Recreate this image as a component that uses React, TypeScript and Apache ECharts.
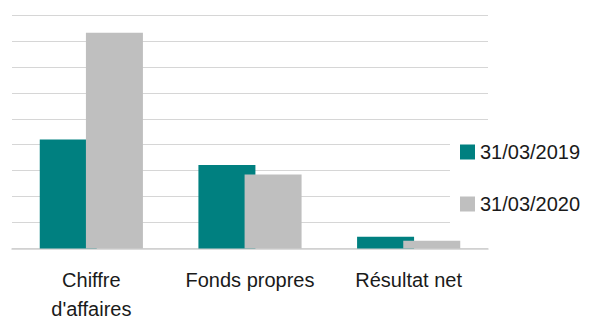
import React, { useEffect, useRef } from "react";
import * as echarts from "echarts";

const categories = ["Chiffre\nd'affaires", "Fonds propres", "Résultat net"];
const seriesNames = ["31/03/2019", "31/03/2020"];
const values2019 = [4.2, 3.22, 0.45];
const values2020 = [8.32, 2.85, 0.3];
const seriesColors = ["#008080", "#bfbfbf"];

export default function App() {
  const ref = useRef<HTMLDivElement>(null);
  useEffect(() => {
    if (!ref.current) return;
    const chart = echarts.init(ref.current, undefined, { renderer: "svg" });
    const font = "'Liberation Sans', Arial, sans-serif";
    chart.setOption({
      animation: false,
      backgroundColor: "#ffffff",
      grid: { left: 12, width: 476, top: 15, height: 240, containLabel: false },
      legend: {
        orient: "vertical",
        left: 450,
        top: 126,
        padding: [16, 10, 16, 10],
        backgroundColor: "#ffffff",
        itemWidth: 15,
        itemHeight: 15,
        itemGap: 32,
        icon: "rect",
        textStyle: { fontFamily: font, fontSize: 20, color: "#1a1a1a" },
        data: seriesNames,
      },
      xAxis: {
        type: "category",
        data: categories,
        axisTick: { show: false },
        axisLine: { lineStyle: { color: "#cfcfcf", width: 1.5 } },
        axisLabel: {
          fontFamily: font,
          fontSize: 20,
          lineHeight: 29.5,
          color: "#1a1a1a",
          margin: 16.5,
          interval: 0,
        },
      },
      yAxis: {
        type: "value",
        min: 0,
        max: 9,
        interval: 1,
        axisLabel: { show: false },
        axisLine: { show: false },
        axisTick: { show: false },
        splitLine: { lineStyle: { color: "#d6d6d6", width: 1 } },
      },
      series: [
        {
          name: seriesNames[0],
          type: "bar",
          data: values2019,
          barWidth: 57,
          barGap: "-19%",
          itemStyle: { color: seriesColors[0] },
        },
        {
          name: seriesNames[1],
          type: "bar",
          data: values2020,
          barWidth: 57,
          barGap: "-19%",
          itemStyle: { color: seriesColors[1] },
        },
      ],
    });
    return () => chart.dispose();
  }, []);
  return (
    <div
      ref={ref}
      style={{ position: "fixed", left: 0, top: 0, width: 591, height: 324 }}
    />
  );
}
